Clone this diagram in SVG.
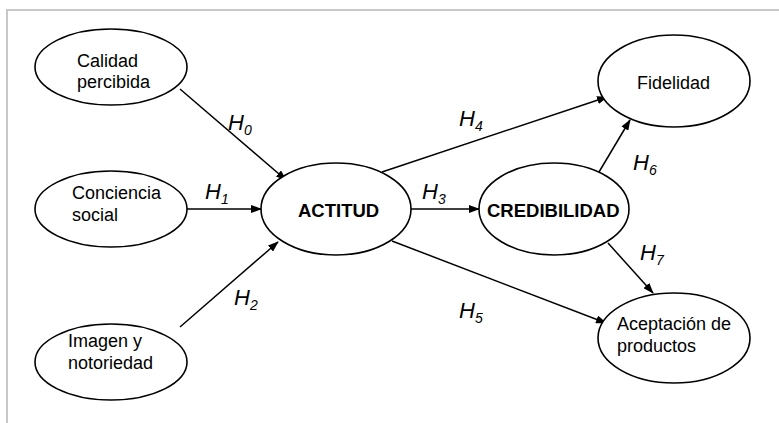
<svg xmlns="http://www.w3.org/2000/svg" width="779" height="423" viewBox="0 0 779 423">
<defs>
<marker id="ah" markerWidth="11" markerHeight="8" refX="10" refY="4" orient="auto" markerUnits="userSpaceOnUse">
<path d="M0,0 L11,4 L0,8 Z" fill="#000"/>
</marker>
<style>
.n{fill:#fff;stroke:#000;stroke-width:1.6}
.t{font-family:"Liberation Sans",Arial,sans-serif;font-size:18px;fill:#000}
.b{font-weight:bold;font-size:18.5px}
.h{font-family:"Liberation Sans",Arial,sans-serif;font-size:22px;font-style:italic;fill:#000}
.s{font-size:14px}
.c{stroke:#000;stroke-width:1.5;fill:none;marker-end:url(#ah)}
</style>
</defs>
<rect width="779" height="423" fill="#fff"/>
<path d="M7,423 V10 H779" fill="none" stroke="#c8c8c8" stroke-width="2"/>
<g id="connectors">
<line class="c" x1="180" y1="89" x2="286" y2="180"/>
<line class="c" x1="187" y1="209" x2="261" y2="209"/>
<line class="c" x1="180" y1="327" x2="278" y2="242"/>
<line class="c" x1="382" y1="172" x2="607" y2="97"/>
<line class="c" x1="411" y1="209" x2="479" y2="209"/>
<line class="c" x1="392" y1="241" x2="606" y2="323"/>
<line class="c" x1="599" y1="172" x2="630" y2="120"/>
<line class="c" x1="608" y1="243" x2="653" y2="293"/>
</g>
<g id="labels">
<text class="h" x="228" y="130">H<tspan class="s" dy="5">0</tspan></text>
<text class="h" x="205" y="199">H<tspan class="s" dy="5">1</tspan></text>
<text class="h" x="234" y="305">H<tspan class="s" dy="5">2</tspan></text>
<text class="h" x="422" y="199">H<tspan class="s" dy="5">3</tspan></text>
<text class="h" x="459" y="126">H<tspan class="s" dy="5">4</tspan></text>
<text class="h" x="459" y="318">H<tspan class="s" dy="5">5</tspan></text>
<text class="h" x="633" y="170">H<tspan class="s" dy="5">6</tspan></text>
<text class="h" x="640" y="260">H<tspan class="s" dy="5">7</tspan></text>
</g>
<g id="calidad">
<ellipse class="n" cx="111" cy="67" rx="76" ry="38"/>
<text class="t" x="77" y="67">Calidad</text>
<text class="t" x="77" y="88">percibida</text>
</g>
<g id="conciencia">
<ellipse class="n" cx="111" cy="209" rx="76" ry="38"/>
<text class="t" x="72" y="199">Conciencia</text>
<text class="t" x="72" y="221">social</text>
</g>
<g id="imagen">
<ellipse class="n" cx="111" cy="362" rx="76" ry="38"/>
<text class="t" x="68" y="347">Imagen y</text>
<text class="t" x="68" y="369">notoriedad</text>
</g>
<g id="actitud">
<ellipse class="n" cx="336" cy="209" rx="75" ry="46"/>
<text class="t b" x="298" y="217">ACTITUD</text>
</g>
<g id="credibilidad">
<ellipse class="n" cx="554" cy="209" rx="75" ry="46"/>
<text class="t b" x="487" y="217">CREDIBILIDAD</text>
</g>
<g id="fidelidad">
<ellipse class="n" cx="674" cy="81" rx="76" ry="46"/>
<text class="t" x="637" y="89">Fidelidad</text>
</g>
<g id="aceptacion">
<ellipse class="n" cx="674" cy="338" rx="76" ry="45"/>
<text class="t" x="617" y="330">Aceptación de</text>
<text class="t" x="617" y="352">productos</text>
</g>
</svg>
